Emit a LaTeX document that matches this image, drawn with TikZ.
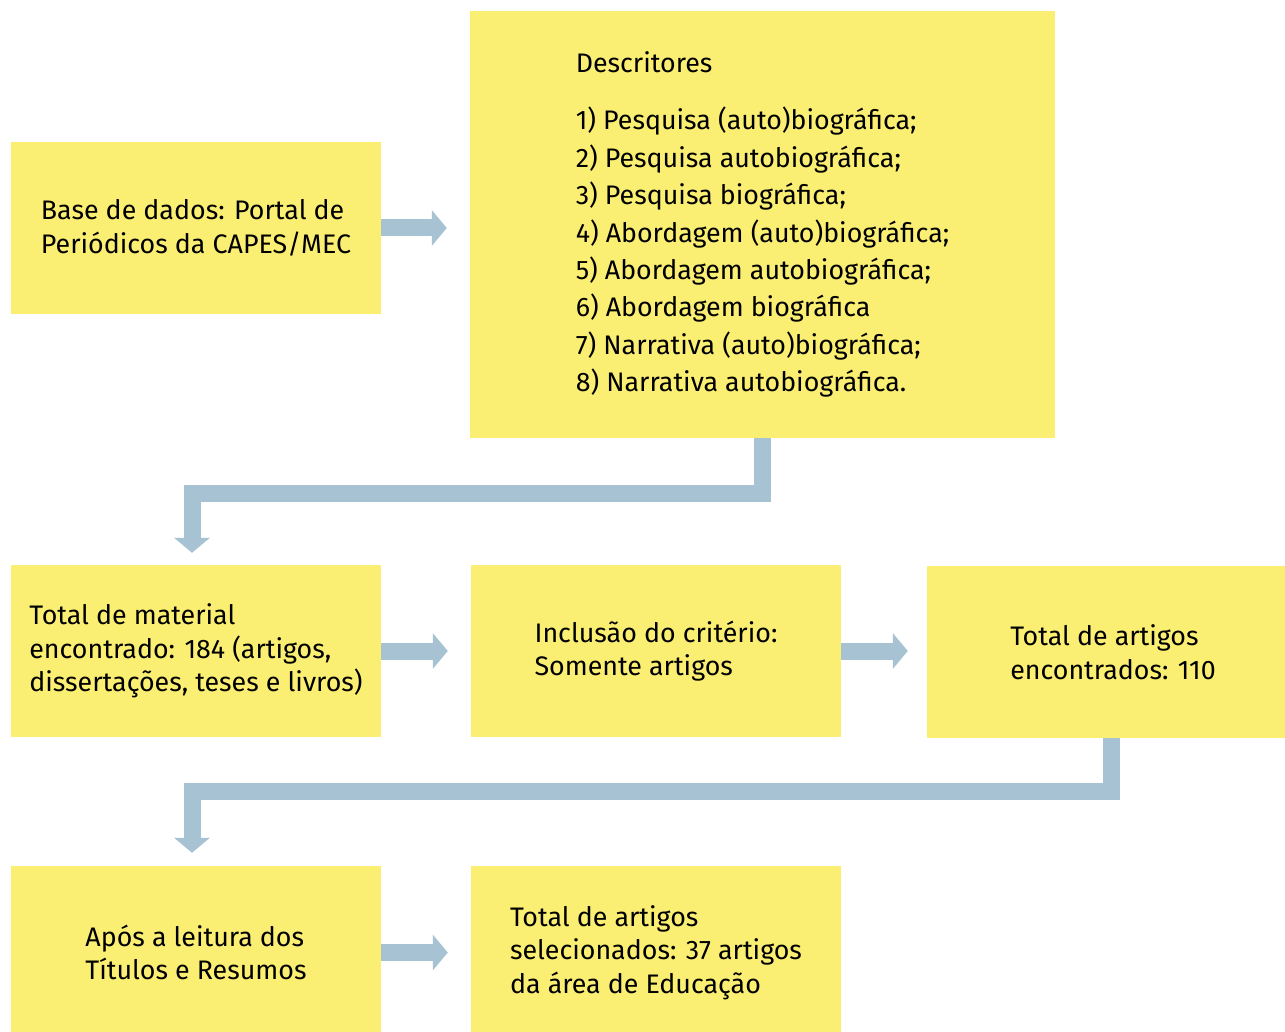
\documentclass[tikz,border=0pt]{standalone}
\usepackage{fontspec}
\setmainfont{Fira Sans}
\usetikzlibrary{arrows.meta,calc}
\definecolor{boxyellow}{HTML}{FBEF73}
\definecolor{arrowblue}{HTML}{A7C3D3}
\tikzset{
  box/.style={fill=boxyellow, draw=none, align=left, inner sep=0pt,
    font=\fontsize{26.8}{33.5}\selectfont},
  blockarrow/.style={draw=arrowblue, line width=17pt, line join=miter,
    -{Triangle[length=15pt,width=35pt]}},
}
\begin{document}
\begin{tikzpicture}[x=1pt,y=-1pt]
\useasboundingbox (0,0) rectangle (1285,1032);
\node[box, minimum width=370pt, minimum height=172pt] (b1) at (196,228)
  {Base de dados: Portal de\\Periódicos da CAPES/MEC};
\node[box, minimum width=585pt, minimum height=427pt,
  font=\fontsize{26.8}{37.4}\selectfont] (b2) at (762.5,224.5)
  {Descritores\\[20pt]
   1) Pesquisa (auto)biográfica;\\
   2) Pesquisa autobiográfica;\\
   3) Pesquisa biográfica;\\
   4) Abordagem (auto)biográfica;\\
   5) Abordagem autobiográfica;\\
   6) Abordagem biográfica\\
   7) Narrativa (auto)biográfica;\\
   8) Narrativa autobiográfica.};
\node[box, minimum width=370pt, minimum height=172pt] (b3) at (196,651)
  {Total de material\\encontrado: 184 (artigos,\\dissertações, teses e livros)};
\node[box, minimum width=370pt, minimum height=172pt] (b4) at (656,651)
  {Inclusão do critério:\\Somente artigos};
\node[box, minimum width=358pt, minimum height=172pt] (b5) at (1106,652)
  {\hspace*{14pt}Total de artigos\\\hspace*{14pt}encontrados: 110};
\node[box, minimum width=370pt, minimum height=173pt] (b6) at (196,952.5)
  {Após a leitura dos\\Títulos e Resumos};
\node[box, minimum width=370pt, minimum height=173pt] (b7) at (656,952.5)
  {Total de artigos\\selecionados: 37 artigos\\da área de Educação};
% horizontal arrows
\draw[blockarrow, shorten >=23pt] (b1.east) -- (b1.east -| b2.west);
\draw[blockarrow, shorten >=23pt] (b3.east) -- (b4.west);
\draw[blockarrow, shorten >=19pt] (b4.east) -- (b4.east -| b5.west);
\draw[blockarrow, shorten >=23pt] (b6.east) -- (b7.west);
% elbow arrows
\coordinate (e1) at (192,493.5);
\draw[blockarrow, shorten >=12pt] (b2.south) |- (e1) -- (e1 |- b3.north);
\coordinate (s2) at ($(b5.south)+(5.5,0)$);
\coordinate (e2) at (192,791.5);
\draw[blockarrow, shorten >=13pt] (s2) |- (e2) -- (e2 |- b6.north);
\end{tikzpicture}
\end{document}
